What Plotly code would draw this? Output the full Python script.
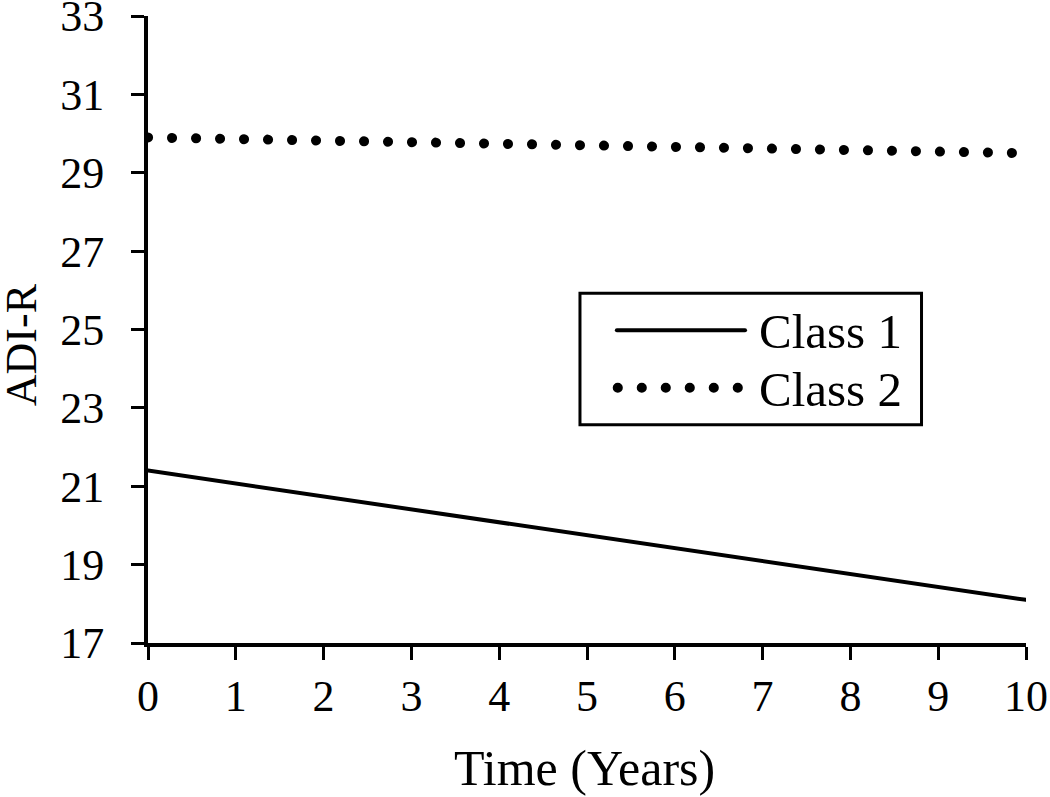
import plotly.graph_objects as go

# Data
time_years = [0, 10]
class1_adir = [21.4, 18.1]
class2_adir = [29.9, 29.5]
y_ticks = [17, 19, 21, 23, 25, 27, 29, 31, 33]
x_ticks = [0, 1, 2, 3, 4, 5, 6, 7, 8, 9, 10]
series_names = ["Class 1", "Class 2"]

FONT = "Liberation Serif, Times New Roman, serif"
DOT_DASH = "0.1px,23.9px"

fig = go.Figure()
fig.add_trace(go.Scatter(x=time_years, y=class1_adir, mode="lines", name=series_names[0],
                         line=dict(color="black", width=4), showlegend=False))
fig.add_trace(go.Scatter(x=time_years, y=class2_adir, mode="lines", name=series_names[1],
                         line=dict(color="black", width=10, dash=DOT_DASH), showlegend=False))

axis_common = dict(showline=True, linecolor="black", linewidth=4, ticks="outside",
                   ticklen=13, tickwidth=3, tickcolor="black", showgrid=False, zeroline=False,
                   automargin=False, ticklabeloverflow="allow",
                   tickfont=dict(family=FONT, size=44, color="black"))

fig.update_xaxes(range=[0, 10], tickvals=x_ticks, ticktext=[str(v) for v in x_ticks],
                 ticklabelstandoff=-2, **axis_common)
fig.update_yaxes(range=[17, 33], tickvals=y_ticks, ticktext=[str(v) for v in y_ticks],
                 ticklabelstandoff=18, **axis_common)

# Custom legend (box, samples, labels)
fig.add_shape(type="rect", xref="paper", yref="paper", x0=0.492, x1=0.881, y0=0.348, y1=0.558,
              line=dict(color="black", width=3), fillcolor="white", layer="above")
fig.add_shape(type="line", xref="paper", yref="paper", x0=0.534, x1=0.680, y0=0.499, y1=0.499,
              line=dict(color="black", width=4), layer="above")
fig.add_shape(type="line", xref="paper", yref="paper", x0=0.535, x1=0.673, y0=0.407, y1=0.407,
              line=dict(color="black", width=10, dash=DOT_DASH), layer="above")
fig.add_annotation(x=0.694, y=0.497, xref="paper", yref="paper", text=series_names[0],
                   showarrow=False, xanchor="left", yanchor="middle",
                   font=dict(family=FONT, size=49, color="black"))
fig.add_annotation(x=0.694, y=0.405, xref="paper", yref="paper", text=series_names[1],
                   showarrow=False, xanchor="left", yanchor="middle",
                   font=dict(family=FONT, size=49, color="black"))

# Axis titles
fig.add_annotation(x=-0.1446, y=0.475, xref="paper", yref="paper", text="ADI-R",
                   textangle=-90, showarrow=False, xanchor="center", yanchor="middle",
                   font=dict(family=FONT, size=44, color="black"))
fig.add_annotation(x=0.4966, y=-0.199, xref="paper", yref="paper", text="Time (Years)",
                   showarrow=False, xanchor="center", yanchor="middle",
                   font=dict(family=FONT, size=50, color="black"))

fig.update_layout(width=1050, height=797, margin=dict(l=148, r=24, t=16, b=154),
                  plot_bgcolor="white", paper_bgcolor="white", showlegend=False)

post = """
var s=document.createElement('style');
s.innerHTML='html, body {margin:0; padding:0; overflow:hidden;} .js-line, .shapelayer path {stroke-linecap: round !important;}';
document.head.appendChild(s);
"""
fig.write_html("out.html", post_script=post, config={"displayModeBar": False})
